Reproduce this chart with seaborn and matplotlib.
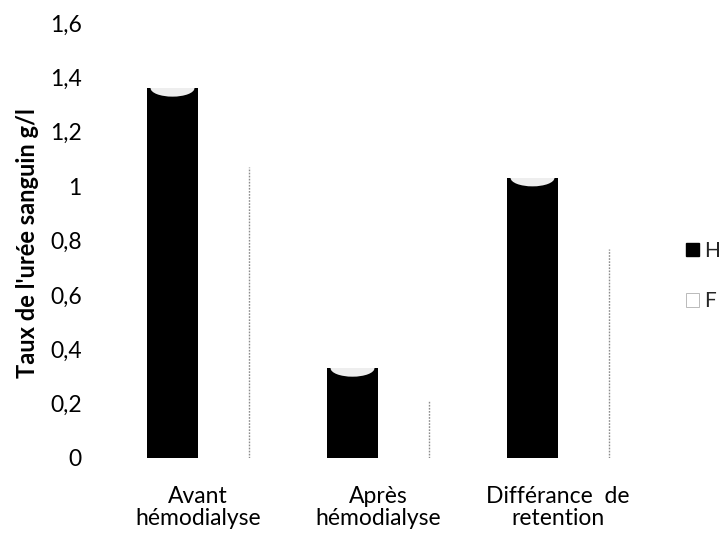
import matplotlib
matplotlib.use("Agg")
import matplotlib.pyplot as plt
from matplotlib.patches import Ellipse, Patch
import seaborn as sns
import pandas as pd

# Urea levels (g/l) before / after hemodialysis and retention difference, by sex
categories = ["Avant\nhémodialyse", "Après\nhémodialyse", "Différance  de\nretention"]
series_names = ["H", "F"]
values_h = [1.36, 0.33, 1.03]
values_f = [1.07, 0.21, 0.77]
ytick_values = [0, 0.2, 0.4, 0.6, 0.8, 1.0, 1.2, 1.4, 1.6]
ytick_labels = ["0", "0,2", "0,4", "0,6", "0,8", "1", "1,2", "1,4", "1,6"]
ylabel = "Taux de l'urée sanguin g/l"

df = pd.DataFrame({
    "categorie": categories * 2,
    "sexe": [series_names[0]] * 3 + [series_names[1]] * 3,
    "valeur": values_h + values_f,
})

sns.set_theme(style="white")
plt.rcParams["font.family"] = ["Lato", "DejaVu Sans"]

fig = plt.figure(figsize=(7.26, 5.39), dpi=100)
ax = fig.add_axes([0.1488, 0.1503, 0.7438, 0.8071])

sns.barplot(data=df, x="categorie", y="valeur", hue="sexe",
            hue_order=series_names, palette=["#000000", "#ffffff"],
            width=0.567, gap=0, linewidth=0, errorbar=None,
            legend=False, ax=ax)

# cylinder-like highlight on top of the dark bars
for bar in ax.containers[0]:
    x, w, h = bar.get_x(), bar.get_width(), bar.get_height()
    hl = Ellipse((x + w / 2, h), width=w * 0.86, height=0.062,
                 facecolor="#eeeeee", edgecolor="none", zorder=3)
    ax.add_patch(hl)
    hl.set_clip_path(bar)

# pale bars: only a faint shaded right edge shows
for bar in ax.containers[1]:
    x, w, h = bar.get_x(), bar.get_width(), bar.get_height()
    ax.vlines(x + w, 0, h, color="#8c8c8c", linewidth=1.0,
              linestyles=(0, (1.2, 1.0)), zorder=3)

ax.set_xlim(-0.5, 2.5)
ax.set_ylim(0, 1.6)
ax.set_yticks(ytick_values)
ax.set_yticklabels(ytick_labels)
ax.tick_params(axis="y", length=0, pad=19, labelsize=16.5, colors="#000000")
ax.tick_params(axis="x", length=0, pad=20, labelsize=16.5, colors="#000000")
for lbl in ax.get_xticklabels():
    lbl.set_linespacing(1.05)
ax.set_xlabel("")
ax.set_ylabel(ylabel, fontsize=17, fontweight="bold", color="#000000")
ax.yaxis.set_label_coords(-0.128, 0.494)
for s in ax.spines.values():
    s.set_visible(False)
ax.grid(False)

handles = [Patch(facecolor="#000000", edgecolor="#000000"),
           Patch(facecolor="#ffffff", edgecolor="#b0b0b0", linewidth=0.6)]
ax.legend(handles, series_names, loc="center left",
          bbox_to_anchor=(1.055, 0.418), frameon=False, fontsize=15,
          handlelength=0.6, handleheight=0.6, handletextpad=0.25,
          labelspacing=1.45, borderaxespad=0)

fig.savefig("out.png", dpi=100, facecolor="white")
